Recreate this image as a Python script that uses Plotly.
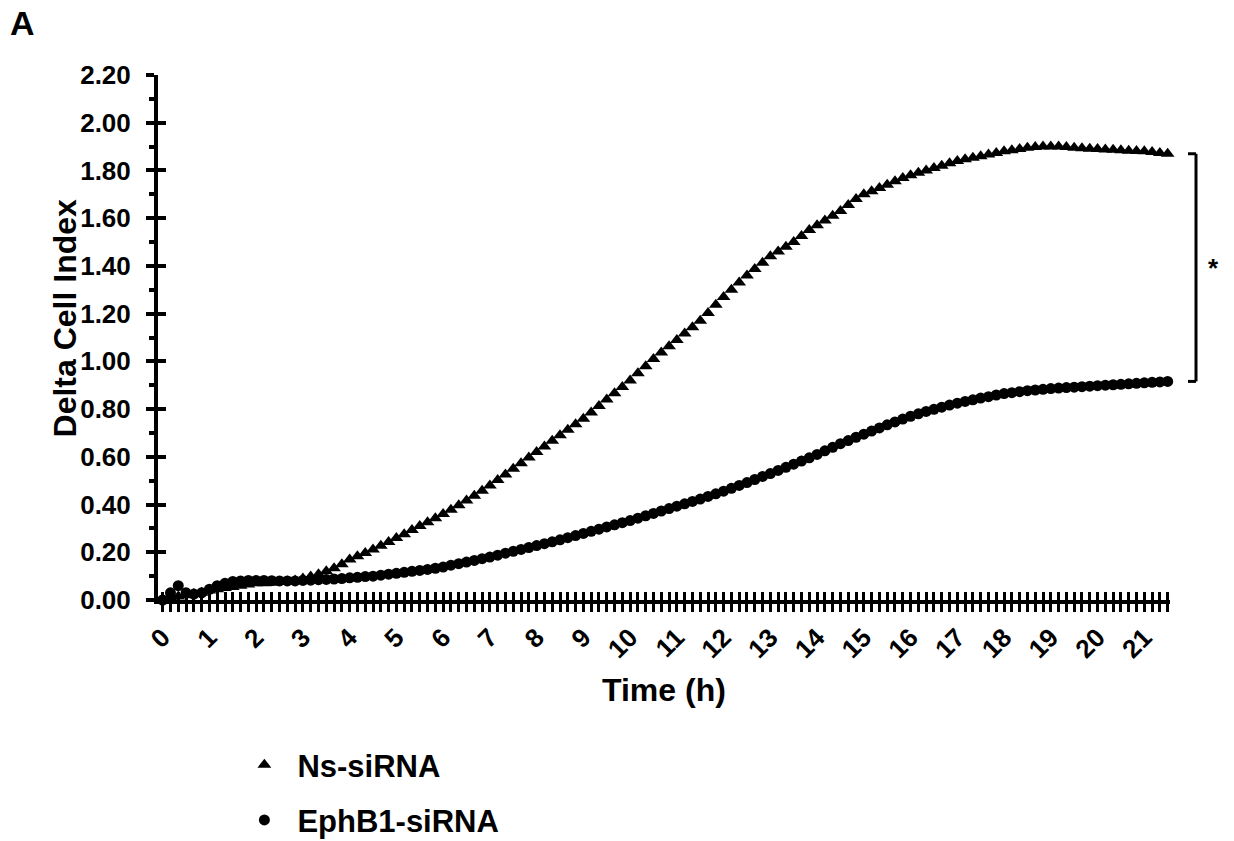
import plotly.graph_objects as go

# Sampling times (minutes), every 10 min
time_min = [
    0, 10, 20, 30, 40, 50, 60, 70, 80, 90, 100, 110, 120,
    130, 140, 150, 160, 170, 180, 190, 200, 210, 220, 230, 240,
    250, 260, 270, 280, 290, 300, 310, 320, 330, 340, 350, 360,
    370, 380, 390, 400, 410, 420, 430, 440, 450, 460, 470, 480,
    490, 500, 510, 520, 530, 540, 550, 560, 570, 580, 590, 600,
    610, 620, 630, 640, 650, 660, 670, 680, 690, 700, 710, 720,
    730, 740, 750, 760, 770, 780, 790, 800, 810, 820, 830, 840,
    850, 860, 870, 880, 890, 900, 910, 920, 930, 940, 950, 960,
    970, 980, 990, 1000, 1010, 1020, 1030, 1040, 1050, 1060, 1070, 1080,
    1090, 1100, 1110, 1120, 1130, 1140, 1150, 1160, 1170, 1180, 1190, 1200,
    1210, 1220, 1230, 1240, 1250, 1260, 1270, 1280, 1290,
]

ns_sirna = [
    0.00, 0.01, 0.015, 0.02, 0.025, 0.03, 0.04,
    0.045, 0.05, 0.055, 0.06, 0.065, 0.07,
    0.07, 0.072, 0.075, 0.078, 0.082, 0.09,
    0.098, 0.108, 0.12, 0.133, 0.15, 0.17,
    0.183, 0.197, 0.212, 0.227, 0.243, 0.26,
    0.276, 0.293, 0.31, 0.326, 0.343, 0.36,
    0.378, 0.397, 0.417, 0.437, 0.458, 0.48,
    0.503, 0.526, 0.55, 0.573, 0.597, 0.62,
    0.643, 0.667, 0.69, 0.713, 0.737, 0.76,
    0.786, 0.813, 0.84, 0.866, 0.893, 0.92,
    0.95, 0.98, 1.01, 1.037, 1.063, 1.09,
    1.117, 1.143, 1.17, 1.203, 1.237, 1.27,
    1.30, 1.33, 1.36, 1.387, 1.413, 1.44,
    1.46, 1.48, 1.50, 1.525, 1.55, 1.57,
    1.59, 1.61, 1.63, 1.655, 1.68, 1.70,
    1.713, 1.727, 1.74, 1.755, 1.768, 1.78,
    1.79, 1.80, 1.81, 1.82, 1.83, 1.84,
    1.847, 1.853, 1.86, 1.867, 1.873, 1.88,
    1.885, 1.89, 1.895, 1.898, 1.90, 1.90,
    1.90, 1.898, 1.895, 1.893, 1.891, 1.89,
    1.888, 1.887, 1.885, 1.883, 1.882, 1.88,
    1.877, 1.873, 1.87,
]

ephb1_sirna = [
    0.00, 0.03, 0.06, 0.03, 0.025, 0.03, 0.045,
    0.06, 0.07, 0.078, 0.08, 0.082, 0.082,
    0.082, 0.081, 0.08, 0.08, 0.08, 0.082,
    0.083, 0.085, 0.086, 0.088, 0.09, 0.093,
    0.095, 0.098, 0.10, 0.104, 0.108, 0.112,
    0.116, 0.12, 0.124, 0.128, 0.133, 0.138,
    0.146, 0.152, 0.159, 0.166, 0.173, 0.18,
    0.188, 0.196, 0.204, 0.212, 0.22, 0.228,
    0.236, 0.244, 0.252, 0.261, 0.27, 0.279,
    0.288, 0.297, 0.306, 0.315, 0.324, 0.333,
    0.343, 0.353, 0.363, 0.373, 0.383, 0.393,
    0.403, 0.413, 0.423, 0.434, 0.445, 0.456,
    0.468, 0.48, 0.492, 0.505, 0.518, 0.53,
    0.543, 0.556, 0.569, 0.582, 0.596, 0.61,
    0.625, 0.64, 0.655, 0.668, 0.682, 0.695,
    0.708, 0.721, 0.734, 0.746, 0.758, 0.77,
    0.78, 0.79, 0.799, 0.808, 0.817, 0.825,
    0.832, 0.839, 0.846, 0.852, 0.859, 0.865,
    0.869, 0.873, 0.877, 0.88, 0.883, 0.886,
    0.888, 0.89, 0.892, 0.894, 0.896, 0.898,
    0.9, 0.902, 0.904, 0.906, 0.908, 0.91,
    0.912, 0.914, 0.916,
]

hour_ticks = list(range(0, 22))
y_ticks = [0.0, 0.2, 0.4, 0.6, 0.8, 1.0, 1.2, 1.4, 1.6, 1.8, 2.0, 2.2]
series_names = ["Ns-siRNA", "EphB1-siRNA"]

time_h = [m / 60 for m in time_min]

FONT = "Liberation Sans, Arial, sans-serif"
X_RANGE = [-0.1, 21.55]
Y_RANGE = [0, 2.2]

fig = go.Figure()
fig.add_trace(go.Scatter(
    x=time_h, y=ns_sirna, mode="markers", name=series_names[0],
    legendgroup="a",
    marker=dict(symbol="triangle-up", size=12, color="black"),
    cliponaxis=False,
))
fig.add_trace(go.Scatter(
    x=time_h, y=ephb1_sirna, mode="markers", name=series_names[1],
    legendgroup="b",
    marker=dict(symbol="circle", size=11, color="black"),
    cliponaxis=False,
))

tickfont = dict(family=FONT, size=26, color="black", weight="bold")
titlefont = dict(family=FONT, size=32, color="black", weight="bold")

fig.update_layout(
    width=1234, height=841,
    margin=dict(l=158, r=64, t=75, b=241, autoexpand=False),
    paper_bgcolor="white", plot_bgcolor="white",
    font=dict(family=FONT, color="black"),
    xaxis=dict(
        range=X_RANGE, showgrid=False, zeroline=False, automargin=False,
        showline=True, linecolor="black", linewidth=4,
        tickmode="array", tickvals=hour_ticks, ticktext=[str(h) for h in hour_ticks],
        ticks="outside", ticklen=8, tickwidth=3, tickcolor="black",
        minor=dict(ticks="outside", tick0=0, dtick=1/6, ticklen=8, tickwidth=3, tickcolor="black"),
        tickangle=-45, tickfont=tickfont,
    ),
    xaxis2=dict(
        overlaying="x", anchor="y", side="bottom", range=X_RANGE, automargin=False,
        showgrid=False, zeroline=False, showline=False, showticklabels=False,
        tick0=0, dtick=1/6, ticks="inside", ticklen=8, tickwidth=3, tickcolor="black",
    ),
    yaxis=dict(
        range=Y_RANGE, showgrid=False, zeroline=False, automargin=False,
        showline=True, linecolor="black", linewidth=4,
        tickmode="array", tickvals=y_ticks, ticktext=[f"{v:.2f}" for v in y_ticks],
        ticks="outside", ticklen=8, tickwidth=4, tickcolor="black",
        minor=dict(ticks="outside", tick0=0, dtick=0.1, ticklen=5, tickwidth=4, tickcolor="black"),
        tickfont=tickfont, ticklabelstandoff=10,
    ),
    yaxis2=dict(
        overlaying="y", anchor="x", side="left", range=Y_RANGE, automargin=False,
        showgrid=False, zeroline=False, showline=False, showticklabels=False,
        tick0=0, dtick=0.2, ticks="inside", ticklen=8, tickwidth=4, tickcolor="black",
    ),
    showlegend=True,
    legend=dict(
        xref="container", yref="container",
        x=0.1875, y=0.1225, xanchor="left", yanchor="top",
        itemwidth=56,
        font=dict(family=FONT, size=31, color="black", weight="bold"),
        tracegroupgap=12, bgcolor="rgba(0,0,0,0)",
    ),
)

# dummy traces so overlay axes render
fig.add_trace(go.Scatter(x=[None], y=[None], xaxis="x2", yaxis="y", showlegend=False, hoverinfo="skip"))
fig.add_trace(go.Scatter(x=[None], y=[None], xaxis="x", yaxis="y2", showlegend=False, hoverinfo="skip"))

# axis titles
fig.add_annotation(xref="paper", yref="paper", x=0.5, y=-0.171, text="Time (h)",
                   showarrow=False, xanchor="center", yanchor="middle", font=titlefont)
fig.add_annotation(xref="paper", yref="paper", x=-0.092, y=0.538, text="Delta Cell Index",
                   textangle=-90, showarrow=False, xanchor="center", yanchor="middle", font=titlefont)

# significance bracket between final values
y_top = ns_sirna[-1]
y_bot = ephb1_sirna[-1]
bx = 1.0257
bx_in = 1.0178
line = dict(color="black", width=3)
fig.add_shape(type="line", xref="paper", yref="y", x0=bx, x1=bx, y0=y_bot, y1=y_top, line=line)
fig.add_shape(type="line", xref="paper", yref="y", x0=bx_in, x1=bx, y0=y_top, y1=y_top, line=line)
fig.add_shape(type="line", xref="paper", yref="y", x0=bx_in, x1=bx, y0=y_bot, y1=y_bot, line=line)
fig.add_annotation(xref="paper", yref="y", x=1.0504, y=(y_top + y_bot) / 2, text="<b>*</b>",
                   showarrow=False, font=dict(family=FONT, size=26, color="black"))

fig.add_annotation(xref="paper", yref="paper", x=-0.148, y=1.139, text="<b>A</b>",
                   showarrow=False, xanchor="left", yanchor="top",
                   font=dict(family=FONT, size=34, color="black"))

fig.write_html("out.html", config={"displayModeBar": False},
               post_script="document.body.style.margin='0';document.body.style.overflow='hidden';")
